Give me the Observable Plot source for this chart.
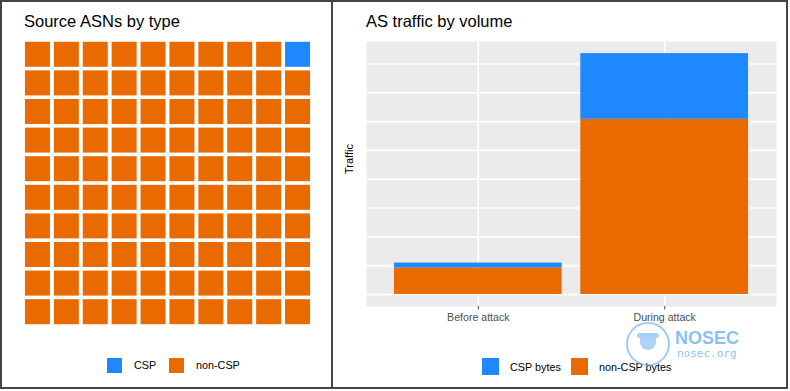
<!DOCTYPE html>
<html><head><meta charset="utf-8">
<script src="https://cdn.jsdelivr.net/npm/d3@7"></script>
<script src="https://cdn.jsdelivr.net/npm/@observablehq/plot@0.6"></script>
<style>
body{margin:0;background:#fff;font-family:"Liberation Sans",Arial,Helvetica,sans-serif;}
#root{position:relative;width:790px;height:391px;overflow:hidden;background:#fff;}
.abs{position:absolute;}
.title{font-size:16.5px;line-height:16.5px;color:#000;white-space:nowrap;}
.lg{font-size:10.8px;line-height:12px;color:#000;white-space:nowrap;}
</style></head><body><div id="root"></div>
<script>
// ---- data ----
const waffleCategories = ["CSP", "non-CSP"];
const waffleCounts = [1, 99];
const periods = ["Before attack", "During attack"];
const byteSeries = ["CSP bytes", "non-CSP bytes"];
const cspBytes = [0.17, 2.28];
const nonCspBytes = [0.92, 6.08];
const yTicks = [0, 1, 2, 3, 4, 5, 6, 7, 8];
const seriesColors = ["#1e88ff", "#e86a00"];
const titles = ["Source ASNs by type", "AS traffic by volume"];
const yLabel = "Traffic";

const root = document.getElementById("root");
const FONT = '"Liberation Sans", Arial, Helvetica, sans-serif';

function el(tag, cls, style, text) {
  const e = document.createElement(tag);
  if (cls) e.className = cls;
  Object.assign(e.style, style);
  if (text != null) e.textContent = text;
  root.appendChild(e);
  return e;
}

// ---- waffle ----
const order = ["non-CSP", "CSP"];
const cells = [];
let idx = 0;
for (const t of order) {
  const n = waffleCounts[waffleCategories.indexOf(t)];
  for (let k = 0; k < n; k++, idx++) cells.push({col: idx % 10, row: Math.floor(idx / 10), type: t});
}
const waffle = Plot.plot({
  width: 331, height: 335,
  marginLeft: 23, marginRight: 19, marginTop: 40, marginBottom: 9,
  style: {background: "transparent", fontFamily: FONT},
  x: {type: "band", domain: d3.range(10), padding: 0, round: false, axis: null},
  y: {type: "band", domain: d3.range(10).reverse(), padding: 0, round: false, axis: null},
  color: {domain: waffleCategories, range: seriesColors},
  marks: [
    Plot.cell(cells, {x: "col", y: "row", fill: "type", insetLeft: 1.95, insetRight: 1.95, insetTop: 1.8, insetBottom: 1.8})
  ]
});
waffle.style.position = "absolute"; waffle.style.left = "0px"; waffle.style.top = "0px";
root.appendChild(waffle);

// ---- stacked bars ----
const barData = periods.flatMap((p, i) => [
  {period: p, series: byteSeries[1], value: nonCspBytes[i]},
  {period: p, series: byteSeries[0], value: cspBytes[i]}
]);
const bars = Plot.plot({
  width: 458, height: 340,
  marginLeft: 35, marginRight: 13, marginTop: 41, marginBottom: 34,
  style: {background: "transparent", fontFamily: FONT, overflow: "visible"},
  x: {domain: periods, paddingInner: 0.1, paddingOuter: 0.15, round: false, label: null},
  y: {domain: [-0.418, 8.78], label: null, axis: null},
  color: {domain: byteSeries, range: seriesColors},
  marks: [
    Plot.frame({fill: "#ebebeb", stroke: null}),
    Plot.gridY(yTicks, {stroke: "#ffffff", strokeOpacity: 1, strokeWidth: 1.6}),
    Plot.gridX({stroke: "#ffffff", strokeOpacity: 1, strokeWidth: 1.6}),
    Plot.barY(barData, {x: "period", y: "value", fill: "series"}),
    Plot.axisX({tickSize: 3.5, tickPadding: 3, fontSize: 10.6, color: "#4d4d4d", label: null}),
    Plot.text([yLabel], {frameAnchor: "left", dx: -17, rotate: -90, fontSize: 11, fill: "#000"})
  ]
});
bars.style.position = "absolute"; bars.style.left = "331px"; bars.style.top = "0px";
root.appendChild(bars);

// ---- titles ----
el("div", "abs title", {left: "24px", top: "13px"}, titles[0]);
el("div", "abs title", {left: "366px", top: "13px"}, titles[1]);

// ---- legends ----
const leftLegendPos = [{sx: 107, tx: 134}, {sx: 169, tx: 196}];
waffleCategories.forEach((c, i) => {
  el("div", "abs", {left: leftLegendPos[i].sx + "px", top: "358px", width: "15px", height: "15px", background: seriesColors[i]});
  el("div", "abs lg", {left: leftLegendPos[i].tx + "px", top: "359px"}, c);
});
const rightLegendPos = [{sx: 482, tx: 510}, {sx: 571, tx: 599}];
byteSeries.forEach((c, i) => {
  el("div", "abs", {left: rightLegendPos[i].sx + "px", top: "358px", width: "17px", height: "17px", background: seriesColors[i]});
  el("div", "abs lg", {left: rightLegendPos[i].tx + "px", top: "360.5px"}, c);
});

// ---- watermark ----
el("div", "abs", {left: "626px", top: "322px", width: "40px", height: "40px", borderRadius: "50%", border: "2px solid rgba(110,175,240,0.65)"});
el("div", "abs", {left: "637px", top: "333px", width: "22px", height: "5px", background: "rgba(110,175,240,0.6)", borderRadius: "2px"});
el("div", "abs", {left: "640px", top: "338px", width: "16px", height: "12px", background: "rgba(110,175,240,0.55)", borderRadius: "0 0 8px 8px"});
el("div", "abs", {left: "675px", top: "330px", fontSize: "18px", fontWeight: "bold", lineHeight: "17px", color: "rgba(100,170,240,0.75)"}, "NOSEC");
el("div", "abs", {left: "677px", top: "348px", fontSize: "11px", lineHeight: "12px", color: "rgba(100,170,240,0.75)", fontFamily: '"DejaVu Sans Mono", monospace'}, "nosec.org");

// ---- panel borders ----
el("div", "abs", {left: "0px", top: "0px", width: "788px", height: "389px", boxSizing: "border-box", border: "2px solid #444"});
el("div", "abs", {left: "330.5px", top: "0px", width: "2px", height: "389px", background: "#444"});
</script></body></html>
